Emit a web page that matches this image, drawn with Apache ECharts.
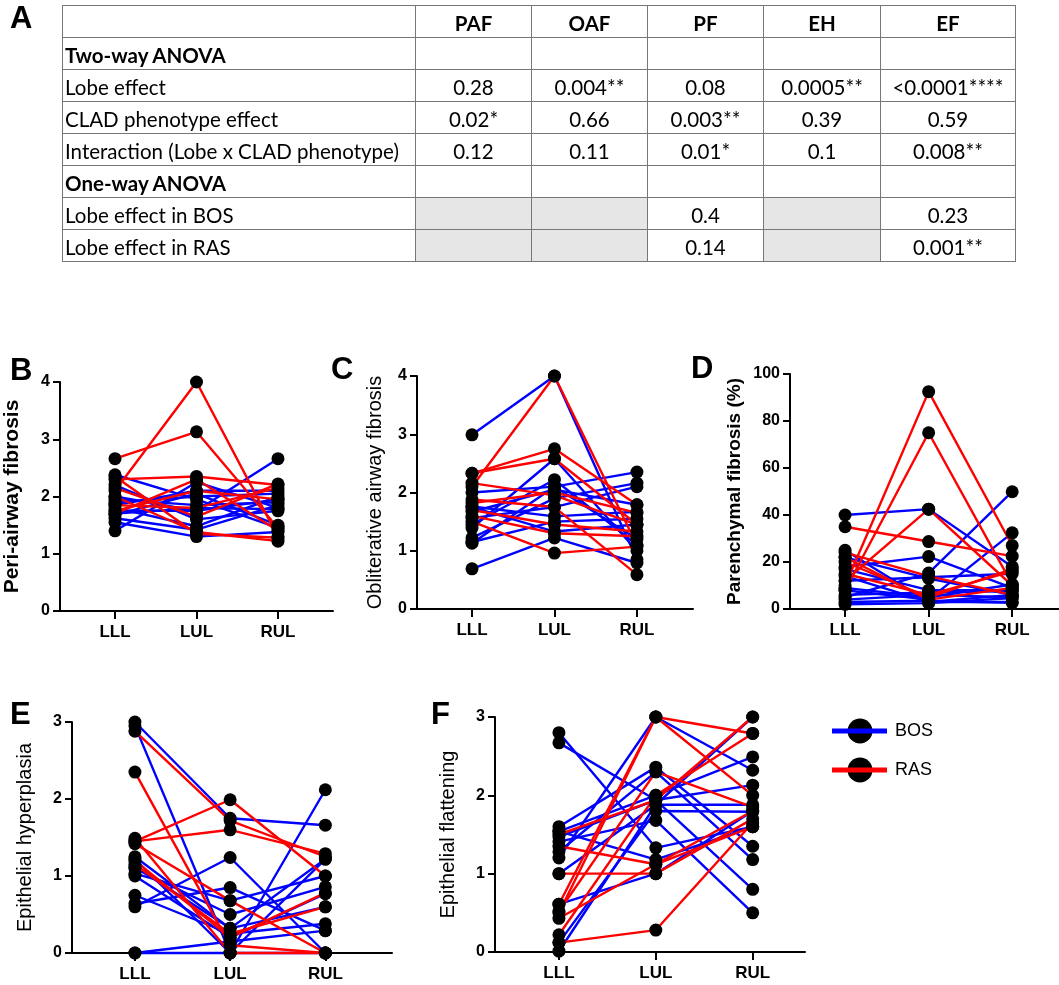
<!DOCTYPE html>
<html>
<head>
<meta charset="utf-8">
<script src="https://cdn.jsdelivr.net/npm/echarts@6.0.0/dist/echarts.min.js"></script>
<style>
html, body { margin: 0; padding: 0; background: #fff; }
#main { position: absolute; left: 0; top: 0; width: 1059px; height: 985px; }
#tbl { position: absolute; left: 62px; top: 5px; border-collapse: collapse; table-layout: fixed;
       font-family: Lato, "Noto Sans", sans-serif; font-size: 20.5px; color: #000; }
#tbl td { border: 1px solid #777; height: 31px; padding: 3px 2px 0 2px; text-align: center; white-space: nowrap; line-height: 28px; box-sizing: border-box; }
#tbl td.lab { text-align: left; }
#tbl td.b { font-weight: bold; }
#tbl td.g { background: #e6e6e6; }
</style>
</head>
<body>
<div id="main"></div>
<table id="tbl"></table>
<script>
// table A
var tableCols = ['PAF', 'OAF', 'PF', 'EH', 'EF'];
var colWidths = [353, 116, 116, 116, 117, 135];
var tableRows = [
    ['Two-way ANOVA', '', '', '', '', ''],
    ['Lobe effect', '0.28', '0.004**', '0.08', '0.0005**', '<0.0001****'],
    ['CLAD phenotype  effect', '0.02*', '0.66', '0.003**', '0.39', '0.59'],
    ['Interaction (Lobe x CLAD phenotype)', '0.12', '0.11', '0.01*', '0.1', '0.008**'],
    ['One-way ANOVA', '', '', '', '', ''],
    ['Lobe effect in BOS', null, null, '0.4', null, '0.23'],
    ['Lobe effect in RAS', null, null, '0.14', null, '0.001**']
];
var boldRows = [0, 4];

// panels B-F, each row = one patient [LLL, LUL, RUL]
var lobes = ['LLL', 'LUL', 'RUL'];

var pafRas = [[2.66, 3.13, 1.45], [2.10, 4.00, 1.30], [2.30, 2.35, 2.20], [2.15, 1.65, 2.22], [1.75, 2.10, 1.95],
    [2.00, 1.38, 1.22], [1.70, 2.30, 1.40], [1.85, 1.80, 2.15], [2.35, 1.35, 1.28]];
var pafBos = [[2.38, 1.95, 1.45], [1.40, 2.25, 1.80], [1.75, 1.75, 2.66], [1.55, 1.30, 1.38], [1.62, 1.42, 1.85],
    [1.95, 1.85, 1.90], [1.90, 2.00, 2.05], [1.70, 1.80, 1.78], [2.00, 1.75, 1.95], [1.80, 1.48, 2.00],
    [1.68, 2.05, 1.50], [2.20, 1.60, 1.75], [1.85, 2.10, 2.10]];

var oafRas = [[2.33, 2.75, 1.79], [2.33, 2.58, 1.45], [2.10, 4.00, 1.10], [2.16, 1.95, 1.45], [1.88, 1.75, 0.59],
    [1.70, 1.45, 1.33], [1.60, 1.30, 1.25], [1.50, 0.96, 1.07], [1.82, 2.00, 1.65]];
var oafBos = [[2.99, 4.00, 0.85], [0.69, 1.22, 0.79], [1.39, 2.58, 1.00], [1.13, 2.10, 2.35], [1.22, 1.90, 2.16],
    [1.45, 2.22, 1.10], [1.56, 1.75, 2.10], [1.76, 1.59, 1.67], [1.67, 2.05, 1.79], [1.15, 1.50, 1.55],
    [1.75, 1.33, 1.45], [2.00, 2.10, 1.20]];

var pfRas = [[10, 92.5, 27], [8, 75, 10.5], [12, 42.5, 10], [35, 28.7, 22.5], [24, 14, 6], [20, 5, 17],
    [15, 6, 16], [22, 4, 9]];
var pfBos = [[40, 42.5, 18], [5, 15.3, 49.9], [8, 4, 32.4], [18, 22.3, 9], [22, 13, 6], [12, 13.5, 15],
    [25, 3, 3], [3, 3.5, 2.6], [2, 2.5, 4.7], [6, 7, 7.6], [9, 5, 10.4], [4, 6, 5], [17, 8, 8], [14, 3, 6]];

var ehRas = [[2.88, 1.72, 1.25], [2.35, 0.10, 0.00], [1.45, 1.99, 1.00], [1.45, 1.60, 1.29], [1.42, 0.68, 0.00],
    [1.20, 0.20, 0.78], [1.15, 0.25, 0.60], [1.49, 0.00, 0.00]];
var ehBos = [[3.00, 1.75, 1.66], [2.95, 0.00, 2.12], [0.60, 1.24, 0.00], [1.25, 0.32, 1.22], [1.10, 0.50, 0.86],
    [1.00, 0.20, 0.77], [0.75, 0.25, 0.38], [0.64, 0.85, 0.29], [0.00, 0.15, 0.29], [0.00, 0.00, 0.00],
    [1.03, 0.68, 1.00], [1.12, 0.32, 0.60], [1.22, 0.00, 1.22]];

var efRas = [[0.12, 0.28, 1.65], [1.00, 1.00, 1.70], [0.50, 3.00, 2.79], [0.61, 3.00, 2.00], [0.43, 1.12, 1.80],
    [0.52, 2.30, 1.85], [1.50, 1.94, 3.00], [0.22, 2.00, 2.79], [1.35, 1.12, 1.60]];
var efBos = [[2.80, 1.33, 1.60], [2.67, 1.94, 0.80], [1.20, 3.00, 2.32], [1.60, 2.36, 1.35], [1.54, 2.00, 2.49],
    [1.47, 1.94, 2.13], [1.41, 1.68, 0.50], [1.54, 1.18, 1.60], [0.61, 1.00, 1.80], [1.28, 2.30, 1.18],
    [1.00, 1.88, 3.00], [0.12, 1.80, 1.79], [0.01, 1.88, 1.88]];

// ---- build the table
(function () {
    var tbl = document.getElementById('tbl');
    var html = '<colgroup>';
    for (var c = 0; c < colWidths.length; c++) html += '<col style="width:' + colWidths[c] + 'px">';
    html += '</colgroup><tr><td></td>';
    for (var i = 0; i < tableCols.length; i++) html += '<td class="b">' + tableCols[i] + '</td>';
    html += '</tr>';
    for (var r = 0; r < tableRows.length; r++) {
        var row = tableRows[r];
        var bold = boldRows.indexOf(r) >= 0 ? ' b' : '';
        html += '<tr><td class="lab' + bold + '">' + row[0] + '</td>';
        for (var k = 1; k < row.length; k++) {
            if (row[k] === null) html += '<td class="g"></td>';
            else html += '<td>' + row[k].replace('<', '&lt;') + '</td>';
        }
        html += '</tr>';
    }
    tbl.innerHTML = html;
})();

// ---- charts
var chart = echarts.init(document.getElementById('main'));
var BLUE = '#0000ff', RED = '#ff0000';
var font = '"Liberation Sans", Arial, sans-serif';

var panels = [
    {l: 60, t: 382, w: 273, h: 229, xmin: -0.675, xmax: 2.675, ymax: 4, yint: 1, name: 'Peri-airway fibrosis', bold: true, nsize: 21, gap: 37, bos: pafBos, ras: pafRas},
    {l: 417, t: 376, w: 276, h: 233, xmin: -0.667, xmax: 2.68, ymax: 4, yint: 1, name: 'Obliterative airway fibrosis', bold: false, nsize: 20, gap: 32, bos: oafBos, ras: oafRas},
    {l: 790, t: 374, w: 269, h: 235, xmin: -0.659, xmax: 2.56, ymax: 100, yint: 20, name: 'Parenchymal fibrosis (%)', bold: true, nsize: 19, gap: 46, bos: pfBos, ras: pfRas},
    {l: 72, t: 722, w: 320, h: 231, xmin: -0.661, xmax: 2.70, ymax: 3, yint: 1, name: 'Epithelial hyperplasia', bold: false, nsize: 20, gap: 37, bos: ehBos, ras: ehRas},
    {l: 495, t: 717, w: 310, h: 235, xmin: -0.66, xmax: 2.54, ymax: 3, yint: 1, name: 'Epithelial flattening', bold: false, nsize: 20, gap: 37, bos: efBos, ras: efRas}
];

var grids = [], xAxes = [], yAxes = [], series = [];
var axisLine = {show: true, onZero: false, lineStyle: {color: '#000', width: 2}};
var tickStyle = {color: '#000', width: 2};

panels.forEach(function (p, i) {
    grids.push({left: p.l, top: p.t, width: p.w, height: p.h, containLabel: false, outerBoundsMode: 'none'});
    xAxes.push({
        gridIndex: i, type: 'value', min: p.xmin, max: p.xmax,
        axisLine: axisLine,
        axisTick: {show: true, customValues: [0, 1, 2], length: 8, lineStyle: tickStyle},
        axisLabel: {customValues: [0, 1, 2], formatter: function (v) { return lobes[Math.round(v)]; },
            fontWeight: 'bold', fontSize: 17, color: '#000', margin: 13, fontFamily: font},
        splitLine: {show: false}
    });
    yAxes.push({
        gridIndex: i, type: 'value', min: 0, max: p.ymax, interval: p.yint,
        axisLine: axisLine,
        axisTick: {show: true, length: 7, lineStyle: tickStyle},
        axisLabel: {fontWeight: 'bold', fontSize: 16, color: '#000', margin: 10, fontFamily: font},
        splitLine: {show: false},
        name: p.name, nameLocation: 'middle', nameRotate: 90, nameGap: p.gap,
        nameTextStyle: {fontSize: p.nsize, fontWeight: p.bold ? 'bold' : 'normal', color: '#000', fontFamily: font}
    });
    var pts = [];
    function addGroup(rows, color) {
        rows.forEach(function (row) {
            series.push({
                type: 'line', xAxisIndex: i, yAxisIndex: i, symbol: 'none', silent: true, clip: false,
                lineStyle: {color: color, width: 2.4},
                data: row.map(function (v, k) { return [k, v]; })
            });
            row.forEach(function (v, k) { pts.push([k, v]); });
        });
    }
    addGroup(p.bos, BLUE);
    addGroup(p.ras, RED);
    series.push({
        type: 'scatter', xAxisIndex: i, yAxisIndex: i, symbol: 'circle', symbolSize: 13, clip: false, z: 5,
        itemStyle: {color: '#000', opacity: 1}, data: pts
    });
});

// panel letters and the legend
var letters = [['A', 10, 4], ['B', 10, 356], ['C', 331, 355], ['D', 691, 354], ['E', 10, 700], ['F', 431, 700]];
var graphics = letters.map(function (L) {
    return {type: 'text', left: L[1], top: L[2], z: 10,
        style: {text: L[0], fontSize: 31, fontWeight: 'bold', fill: '#000', fontFamily: font}};
});
[['BOS', BLUE, 731], ['RAS', RED, 770]].forEach(function (e) {
    graphics.push({type: 'circle', shape: {cx: 860, cy: e[2], r: 12.5}, style: {fill: '#000'}, z: 10});
    graphics.push({type: 'line', shape: {x1: 832, y1: e[2], x2: 887, y2: e[2]}, style: {stroke: e[1], lineWidth: 5}, z: 11});
    graphics.push({type: 'text', x: 895, y: e[2], z: 11,
        style: {text: e[0], fontSize: 18, fill: '#000', fontFamily: font, verticalAlign: 'middle'}});
});

chart.setOption({
    animation: false,
    textStyle: {fontFamily: font},
    grid: grids,
    xAxis: xAxes,
    yAxis: yAxes,
    series: series,
    graphic: graphics
});
</script>
</body>
</html>
